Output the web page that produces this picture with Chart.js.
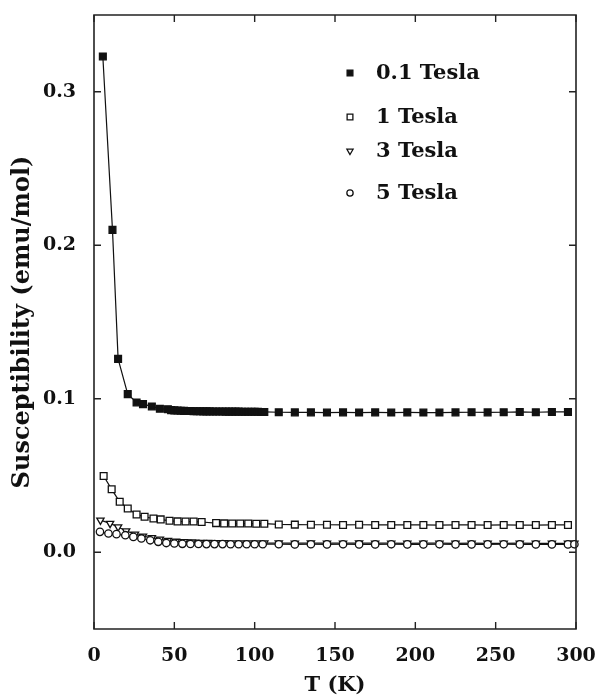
<!DOCTYPE html>
<html>
<head>
<meta charset="utf-8">
<script src="https://cdn.jsdelivr.net/npm/chart.js@4.4.0/dist/chart.umd.min.js"></script>
<style>
  html, body { margin: 0; padding: 0; background: #fff; }
  #wrap { width: 598px; height: 698px; }
</style>
</head>
<body>
<div id="wrap"><canvas id="c" width="598" height="698"></canvas></div>
<script>
// ---------- data ----------
const seriesLabels = ['0.1 Tesla', '1 Tesla', '3 Tesla', '5 Tesla'];

const t01 = [5.5, 11.5, 15, 21, 26.5, 30.5, 36, 41, 46,
  48, 50, 52, 54, 56, 58, 60, 62, 64, 66, 68, 70, 72, 74, 76, 78, 80, 82, 84, 86, 88, 90, 92, 94, 96, 98, 100, 102, 104, 106,
  115, 125, 135, 145, 155, 165, 175, 185, 195, 205, 215, 225, 235, 245, 255, 265, 275, 285, 295];
const chi01 = [0.323, 0.210, 0.126, 0.103, 0.0976, 0.0965, 0.095, 0.0935, 0.0932,
  0.0926, 0.0924, 0.0923, 0.0922, 0.0921, 0.0920, 0.0920, 0.0919, 0.0919, 0.0919,
  0.0918, 0.0918, 0.0918, 0.0917, 0.0917, 0.0917, 0.0917, 0.0916, 0.0916, 0.0916,
  0.0916, 0.0916, 0.0915, 0.0915, 0.0915, 0.0915, 0.0915, 0.0915, 0.0914, 0.0914,
  0.0912, 0.0911, 0.0911, 0.0910, 0.0911, 0.0910, 0.0911, 0.0910, 0.0911, 0.0910,
  0.0910, 0.0911, 0.0912, 0.0911, 0.0912, 0.0914, 0.0912, 0.0914, 0.0914];

const t1 = [6, 11, 16, 21, 26.5, 31.5, 37, 41.5, 47, 52, 57, 62, 67, 76, 81, 86, 91, 96, 101, 106,
  115, 125, 135, 145, 155, 165, 175, 185, 195, 205, 215, 225, 235, 245, 255, 265, 275, 285, 295];
const chi1 = [0.0497, 0.041, 0.0329, 0.0285, 0.0246, 0.0231, 0.022, 0.0214, 0.0205, 0.0201,
  0.0200, 0.0200, 0.0197, 0.0190, 0.0188, 0.0187, 0.0187, 0.0187, 0.0186, 0.0186,
  0.0181, 0.0180, 0.0179, 0.0179, 0.0178, 0.0179, 0.0178, 0.0178, 0.0178, 0.0178,
  0.0177, 0.0178, 0.0178, 0.0177, 0.0178, 0.0177, 0.0177, 0.0178, 0.0178];

const t3 = [4, 10, 15, 20, 25.5, 30.5, 36, 41, 46, 51, 56, 61, 66, 71, 76, 81, 86, 91, 96, 101, 106,
  115, 125, 135, 145, 155, 165, 175, 185, 195, 205, 215, 225, 235, 245, 255, 265, 275, 285, 295, 299];
const chi3 = [0.0209, 0.0188, 0.0165, 0.0139, 0.0118, 0.0105, 0.0094, 0.0085, 0.0076, 0.0071,
  0.0068, 0.0066, 0.0064, 0.0063, 0.0062, 0.0062, 0.0061, 0.0061, 0.0060, 0.0060,
  0.0060,
  0.0060, 0.0059, 0.0060, 0.0059, 0.0059, 0.0060, 0.0059, 0.0059, 0.0058, 0.0059,
  0.0059, 0.0058, 0.0059, 0.0058, 0.0058, 0.0059, 0.0058, 0.0058, 0.0058,
  0.0058];

const t5 = [3.7, 9, 14, 19.5, 24.5, 29.5, 35, 40, 45, 50, 55, 60, 65, 70, 75, 80, 85, 90, 95, 100, 105,
  115, 125, 135, 145, 155, 165, 175, 185, 195, 205, 215, 225, 235, 245, 255, 265, 275, 285, 295, 299];
const chi5 = [0.0133, 0.0122, 0.0118, 0.0111, 0.0100, 0.0090, 0.0078, 0.0068, 0.0060, 0.0057,
  0.0055, 0.0054, 0.0054, 0.0053, 0.0053, 0.0053, 0.0052, 0.0052, 0.0052, 0.0052,
  0.0052,
  0.0052, 0.0051, 0.0052, 0.0051, 0.0052, 0.0051, 0.0051, 0.0052, 0.0051, 0.0051,
  0.0052, 0.0051, 0.0051, 0.0051, 0.0052, 0.0051, 0.0051, 0.0051, 0.0051,
  0.0052];

const xTicks = [0, 50, 100, 150, 200, 250, 300];
const xTickLabels = ['0', '50', '100', '150', '200', '250', '300'];
const yTicks = [0, 0.1, 0.2, 0.3];
const yTickLabels = ['0.0', '0.1', '0.2', '0.3'];
const xTitle = 'T (K)';
const yTitle = 'Susceptibility (emu/mol)';

// ---------- build ----------
const pair = (xs, ys) => xs.map((x, i) => ({ x: x, y: ys[i] }));
const FONT = "'DejaVu Serif', 'Liberation Serif', serif";
const INK = '#111';

const styles = [
  { pointStyle: 'rect', radius: 4.8, fill: INK, rot: 0 },
  { pointStyle: 'rect', radius: 4.8, fill: '#fff', rot: 0 },
  { pointStyle: 'triangle', radius: 4.2, fill: '#fff', rot: 180 },
  { pointStyle: 'circle', radius: 3.7, fill: '#fff', rot: 0 }
];
const xs = [t01, t1, t3, t5];
const ys = [chi01, chi1, chi3, chi5];

const datasets = seriesLabels.map((lab, i) => ({
  label: lab,
  data: pair(xs[i], ys[i]),
  showLine: true,
  borderColor: INK,
  borderWidth: 1.2,
  backgroundColor: styles[i].fill,
  pointStyle: styles[i].pointStyle,
  pointRadius: styles[i].radius,
  pointRotation: styles[i].rot,
  pointBackgroundColor: styles[i].fill,
  pointBorderColor: INK,
  pointBorderWidth: 1.3,
  tension: 0,
  fill: false,
  clip: false,
  order: 4 - i
}));

// frame with inward ticks on all four sides + in-plot legend
const framePlugin = {
  id: 'frame',
  afterDraw(chart) {
    const { ctx, chartArea: a, scales } = chart;
    ctx.save();
    ctx.setLineDash([]);
    ctx.strokeStyle = '#222';
    ctx.lineWidth = 1.6;
    ctx.beginPath();
    ctx.rect(a.left, a.top, a.right - a.left, a.bottom - a.top);
    ctx.stroke();
    ctx.lineWidth = 1.4;
    const L = 7;
    ctx.beginPath();
    xTicks.forEach(v => {
      const px = scales.x.getPixelForValue(v);
      ctx.moveTo(px, a.bottom); ctx.lineTo(px, a.bottom - L);
      ctx.moveTo(px, a.top); ctx.lineTo(px, a.top + L);
    });
    yTicks.forEach(v => {
      const py = scales.y.getPixelForValue(v);
      ctx.moveTo(a.left, py); ctx.lineTo(a.left + L, py);
      ctx.moveTo(a.right, py); ctx.lineTo(a.right - L, py);
    });
    ctx.stroke();
    ctx.restore();

    const rowsY = [73, 117, 151, 193];
    const mx = 350, tx = 376;
    ctx.save();
    ctx.font = 'bold 21px ' + FONT;
    ctx.textBaseline = 'middle';
    ctx.textAlign = 'left';
    chart.data.datasets.forEach((ds, i) => {
      ctx.fillStyle = styles[i].fill;
      ctx.strokeStyle = INK;
      ctx.lineWidth = 1.3;
      Chart.helpers.drawPoint(ctx, {
        pointStyle: styles[i].pointStyle,
        radius: styles[i].radius * 0.85,
        rotation: styles[i].rot,
        borderWidth: 1.3
      }, mx, rowsY[i]);
      ctx.fillStyle = INK;
      ctx.fillText(ds.label, tx, rowsY[i] + 1);
    });
    ctx.restore();
  }
};

new Chart(document.getElementById('c'), {
  type: 'line',
  data: { datasets },
  options: {
    responsive: false,
    animation: false,
    devicePixelRatio: 1,
    layout: { padding: { top: 15, right: 22, left: 0, bottom: 0 } },
    plugins: { legend: { display: false }, tooltip: { enabled: false } },
    scales: {
      x: {
        type: 'linear',
        min: 0, max: 300,
        afterBuildTicks: s => { s.ticks = xTicks.map(v => ({ value: v })); },
        afterFit: s => { s.height = 69; s.paddingLeft = 0; s.paddingRight = 0; },
        grid: { display: false },
        border: { display: false },
        ticks: {
          padding: 8,
          color: INK,
          font: { family: FONT, size: 19, weight: 'bold' },
          maxRotation: 0,
          callback: (v, i) => xTickLabels[i]
        },
        title: {
          display: true, text: xTitle, color: INK,
          font: { family: FONT, size: 21, weight: 'bold' },
          padding: { top: 0, bottom: 0 }
        }
      },
      y: {
        type: 'linear',
        min: -0.05, max: 0.35,
        afterBuildTicks: s => { s.ticks = yTicks.map(v => ({ value: v })); },
        afterFit: s => { s.width = 94; s.paddingTop = 0; s.paddingBottom = 0; },
        grid: { display: false },
        border: { display: false },
        ticks: {
          padding: 10,
          color: INK,
          font: { family: FONT, size: 19, weight: 'bold' },
          callback: (v, i) => yTickLabels[i]
        },
        title: {
          display: true, text: yTitle, color: INK,
          font: { family: FONT, size: 24, weight: 'bold' },
          padding: { top: 8, bottom: 0 }
        }
      }
    }
  },
  plugins: [framePlugin]
});
</script>
</body>
</html>
